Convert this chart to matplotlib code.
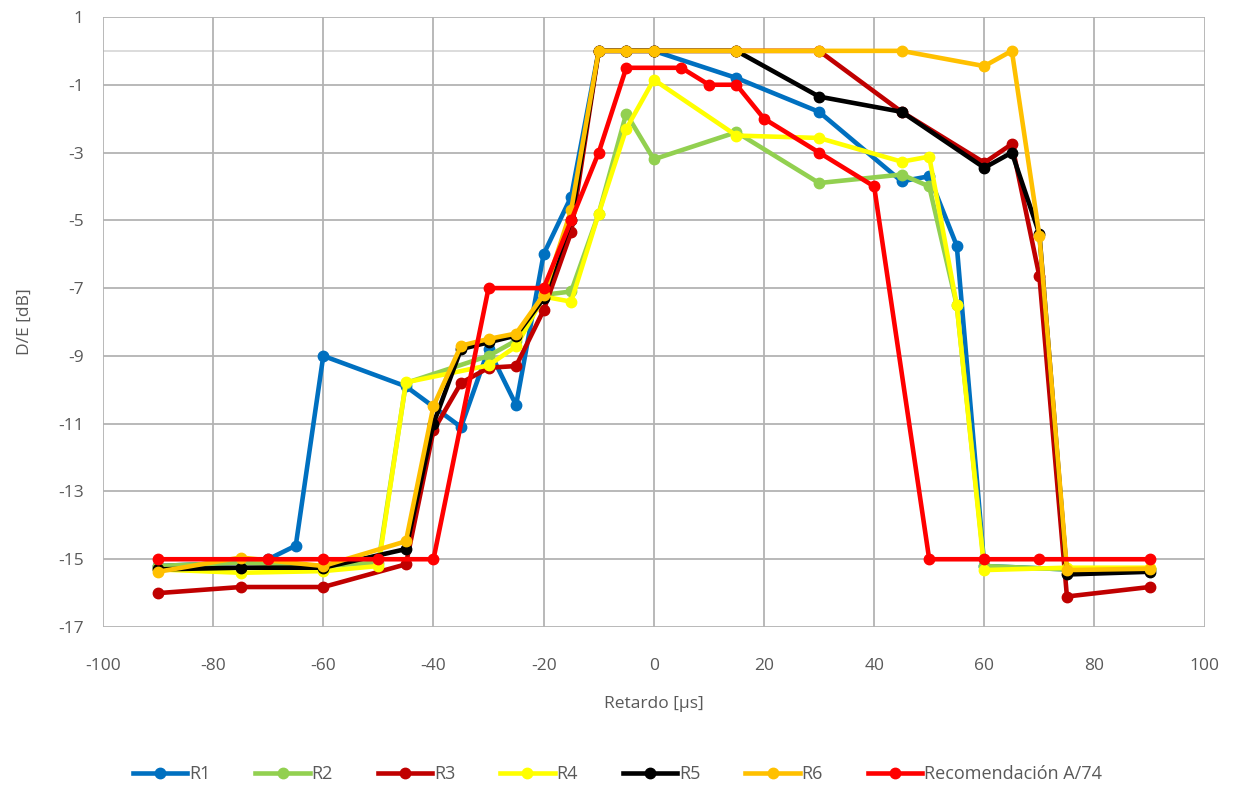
import matplotlib
matplotlib.use("Agg")
import matplotlib.pyplot as plt

# datos
x_r1 = [-90, -75, -70, -65, -60, -45, -35, -30, -25, -20, -15, -10, -5, 0, 15, 30, 45, 50, 55, 60, 75, 90]
r1 = [-15.2, -15.1, -15.0, -14.6, -9.0, -9.9, -11.1, -8.8, -10.45, -6.0, -4.3, 0, 0, 0, -0.8, -1.8, -3.85, -3.7, -5.75, -15.2, -15.3, -15.3]

x_r2 = [-90, -75, -60, -50, -45, -30, -25, -20, -15, -10, -5, 0, 15, 30, 45, 50, 55, 60, 75, 90]
r2 = [-15.2, -15.1, -15.2, -15.1, -9.8, -9.0, -8.55, -7.2, -7.1, -4.8, -1.85, -3.2, -2.4, -3.9, -3.65, -4.0, -7.5, -15.2, -15.3, -15.3]

x_r3 = [-90, -75, -60, -45, -40, -35, -30, -25, -20, -15, -10, -5, 0, 15, 30, 45, 60, 65, 70, 75, 90]
r3 = [-16.0, -15.82, -15.82, -15.15, -11.2, -9.8, -9.35, -9.3, -7.65, -5.35, 0, 0, 0, 0, 0, -1.8, -3.3, -2.75, -6.65, -16.1, -15.82]

x_r4 = [-90, -75, -60, -50, -45, -30, -25, -20, -15, -10, -5, 0, 15, 30, 45, 50, 55, 60, 75, 90]
r4 = [-15.3, -15.4, -15.35, -15.2, -9.78, -9.28, -8.72, -7.25, -7.4, -4.8, -2.3, -0.85, -2.5, -2.57, -3.27, -3.12, -7.5, -15.32, -15.25, -15.25]

x_r5 = [-90, -75, -60, -45, -40, -35, -30, -25, -20, -15, -10, -5, 0, 15, 30, 45, 60, 65, 70, 75, 90]
r5 = [-15.3, -15.25, -15.25, -14.7, -11.0, -8.8, -8.6, -8.4, -7.3, -5.0, 0, 0, 0, 0, -1.35, -1.8, -3.45, -3.0, -5.4, -15.45, -15.37]

x_r6 = [-90, -75, -60, -45, -40, -35, -30, -25, -20, -15, -10, -5, 0, 15, 30, 45, 60, 65, 70, 75, 90]
r6 = [-15.37, -14.95, -15.2, -14.47, -10.48, -8.7, -8.5, -8.34, -7.2, -4.7, 0, 0, 0, 0, 0, 0, -0.45, 0, -5.45, -15.32, -15.28]

x_rec = [-90, -70, -60, -50, -40, -30, -20, -15, -10, -5, 5, 10, 15, 20, 30, 40, 50, 60, 70, 90]
rec = [-15, -15, -15, -15, -15, -7, -7, -5, -3, -0.5, -0.5, -1, -1, -2, -3, -4, -15, -15, -15, -15]

series = [
    ("R1", x_r1, r1, "#0070C0"),
    ("R2", x_r2, r2, "#92D050"),
    ("R3", x_r3, r3, "#C00000"),
    ("R4", x_r4, r4, "#FFFF00"),
    ("R5", x_r5, r5, "#000000"),
    ("R6", x_r6, r6, "#FFC000"),
    ("Recomendación A/74", x_rec, rec, "#FF0000"),
]

plt.rcParams['font.family'] = ['Open Sans', 'DejaVu Sans']
plt.rcParams['axes.unicode_minus'] = False
txt = "#595959"

fig = plt.figure(figsize=(12.33, 7.89), dpi=100)
ax = fig.add_axes([0.0835, 0.2053, 0.8935, 0.7732])

for nombre, xs, ys, color in series:
    ax.plot(xs, ys, color=color, lw=3.3, marker="o", markersize=7.5, label=nombre, zorder=3)

ax.set_xlim(-100, 100)
ax.set_ylim(-17, 1)
ax.set_xticks(range(-100, 101, 20))
ax.set_yticks(range(-17, 2, 2))
ax.grid(True, color="#b3b3b3", lw=1.3)
ax.axhline(0, color="#d9d9d9", lw=1.3, zorder=1)
for s in ax.spines.values():
    s.set_visible(False)
ax.tick_params(length=0, labelsize=12.5, colors=txt)
ax.tick_params(axis="x", pad=22)
ax.tick_params(axis="y", pad=14)

ax.set_xlabel("Retardo [µs]", fontsize=12.5, color=txt, labelpad=16)
ax.set_ylabel("D/E [dB]", fontsize=12.5, color=txt, labelpad=18)

ax.legend(loc="upper center", bbox_to_anchor=(0.467, -0.2), ncol=7, frameon=False,
          fontsize=13, handlelength=3.0, columnspacing=2.5, handletextpad=0.1,
          labelcolor=txt)

fig.savefig("out.png", dpi=100)
